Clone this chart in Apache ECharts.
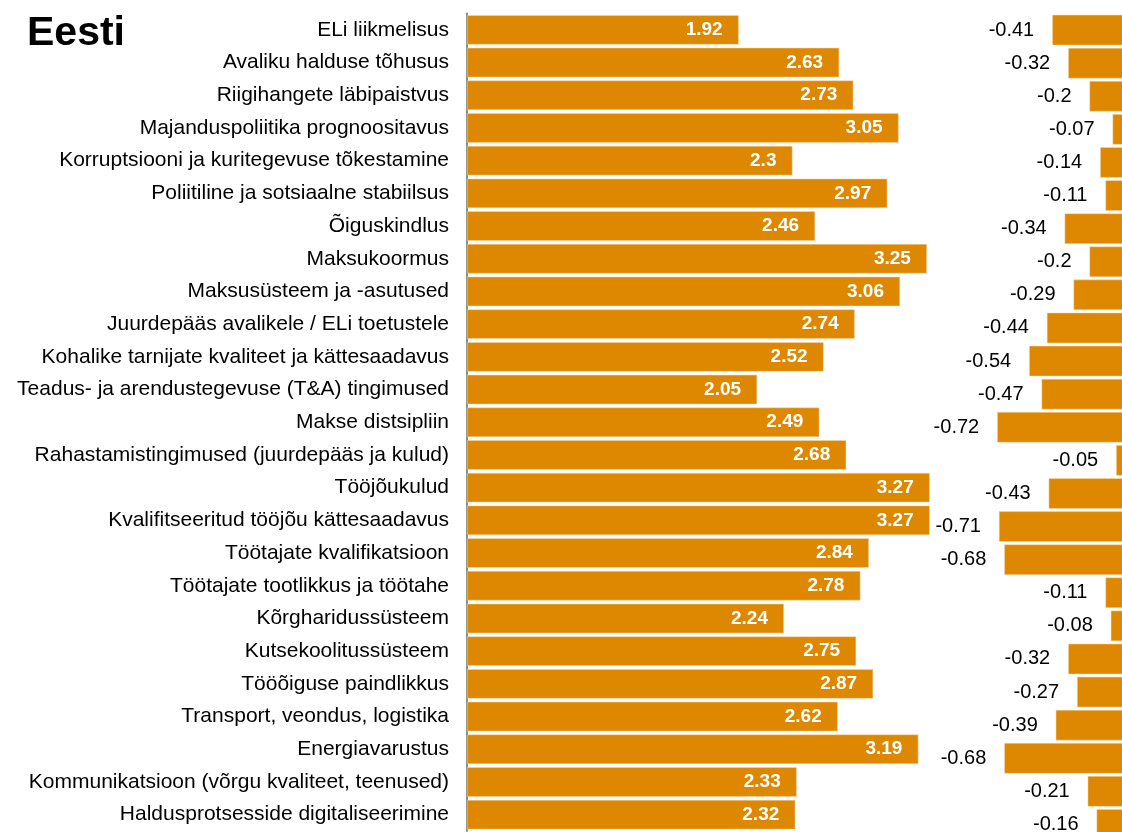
<!DOCTYPE html>
<html><head><meta charset="utf-8">
<script src="https://cdn.jsdelivr.net/npm/echarts@6/dist/echarts.min.js"></script>
<style>html,body{margin:0;padding:0;background:#fff}#c{width:1122px;height:832px}</style>
</head><body><div id="c"></div>
<script>
const categories = [
  "ELi liikmelisus",
  "Avaliku halduse tõhusus",
  "Riigihangete läbipaistvus",
  "Majanduspoliitika prognoositavus",
  "Korruptsiooni ja kuritegevuse tõkestamine",
  "Poliitiline ja sotsiaalne stabiilsus",
  "Õiguskindlus",
  "Maksukoormus",
  "Maksusüsteem ja -asutused",
  "Juurdepääs avalikele / ELi toetustele",
  "Kohalike tarnijate kvaliteet ja kättesaadavus",
  "Teadus- ja arendustegevuse (T&A) tingimused",
  "Makse distsipliin",
  "Rahastamistingimused (juurdepääs ja kulud)",
  "Tööjõukulud",
  "Kvalifitseeritud tööjõu kättesaadavus",
  "Töötajate kvalifikatsioon",
  "Töötajate tootlikkus ja töötahe",
  "Kõrgharidussüsteem",
  "Kutsekoolitussüsteem",
  "Tööõiguse paindlikkus",
  "Transport, veondus, logistika",
  "Energiavarustus",
  "Kommunikatsioon (võrgu kvaliteet, teenused)",
  "Haldusprotsesside digitaliseerimine"
];
const scores = [1.92, 2.63, 2.73, 3.05, 2.3, 2.97, 2.46, 3.25, 3.06, 2.74, 2.52, 2.05, 2.49, 2.68, 3.27, 3.27, 2.84, 2.78, 2.24, 2.75, 2.87, 2.62, 3.19, 2.33, 2.32];
const changes = [-0.41, -0.32, -0.2, -0.07, -0.14, -0.11, -0.34, -0.2, -0.29, -0.44, -0.54, -0.47, -0.72, -0.05, -0.43, -0.71, -0.68, -0.11, -0.08, -0.32, -0.27, -0.39, -0.68, -0.21, -0.16];
const titleText = "Eesti";

const FONT = "'Liberation Sans', Arial, sans-serif";
const BAR = "#DD8800";
const chart = echarts.init(document.getElementById('c'), null, {renderer: 'canvas'});
chart.setOption({
  animation: false,
  backgroundColor: '#fff',
  title: {
    text: titleText, left: 22, top: 8,
    textStyle: {fontFamily: FONT, fontSize: 41, fontWeight: 'bold', color: '#000'}
  },
  grid: [
    {left: 467, width: 566, top: 13.5, height: 817.5, outerBoundsMode: 'none', containLabel: false},
    {left: 983, width: 142, top: 13.5, height: 827.5, outerBoundsMode: 'none', containLabel: false}
  ],
  xAxis: [
    {gridIndex: 0, type: 'value', min: 0, max: 4, show: false, splitLine: {show: false}},
    {gridIndex: 1, type: 'value', min: -0.8, max: 0, show: false, splitLine: {show: false}}
  ],
  yAxis: [
    {gridIndex: 0, type: 'category', data: categories, inverse: true,
     axisLine: {show: true, lineStyle: {color: '#8c8c8c', width: 2}},
     axisTick: {show: false},
     axisLabel: {fontFamily: FONT, fontSize: 21, color: '#000', margin: 18}},
    {gridIndex: 1, type: 'category', data: categories, inverse: true, show: false}
  ],
  series: [
    {type: 'bar', xAxisIndex: 0, yAxisIndex: 0, data: scores, barCategoryGap: '10%',
     itemStyle: {color: BAR, borderColor: '#f4d9b0', borderWidth: 0.5},
     label: {show: true, position: 'insideRight', distance: 16, color: '#fff',
       fontFamily: FONT, fontSize: 19, fontWeight: 'bold'}},
    {type: 'bar', xAxisIndex: 1, yAxisIndex: 1, data: changes, barCategoryGap: '8%',
     itemStyle: {color: BAR, borderColor: '#f4d9b0', borderWidth: 0.5},
     label: {show: true, position: 'left', distance: 18, color: '#000',
       fontFamily: FONT, fontSize: 20}}
  ]
});
</script></body></html>
